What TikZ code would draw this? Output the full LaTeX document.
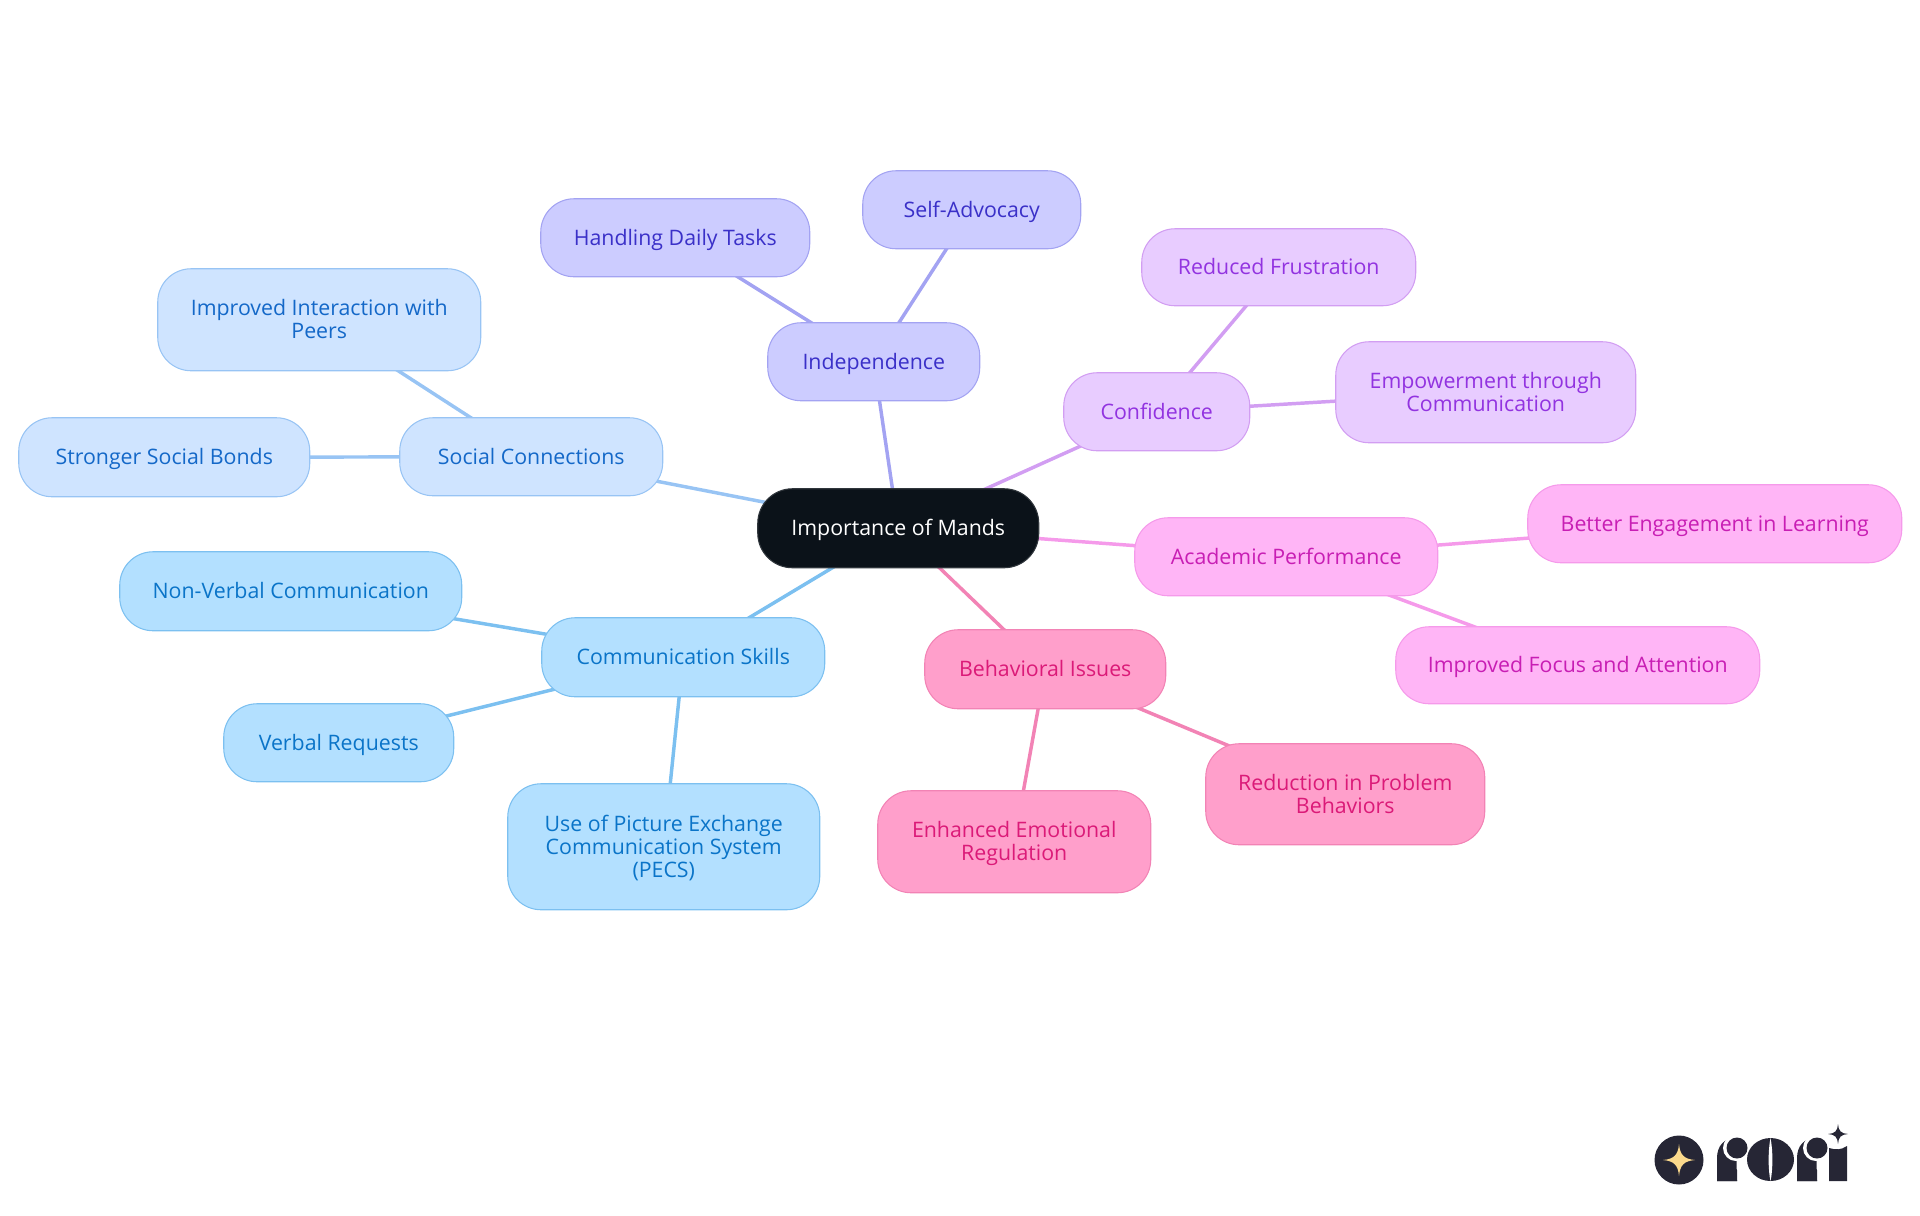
\documentclass[tikz,border=0pt]{standalone}
\usepackage{fontspec}
\setmainfont{Open Sans}
\usetikzlibrary{backgrounds}
\definecolor{cRoot}{HTML}{0B1219}
\definecolor{fInd}{HTML}{CCCCFF}\definecolor{sInd}{HTML}{A3A3F2}\definecolor{tInd}{HTML}{3A30C8}
\definecolor{fCon}{HTML}{E8CCFF}\definecolor{sCon}{HTML}{D29EF2}\definecolor{tCon}{HTML}{9233E0}
\definecolor{fAca}{HTML}{FFB5F6}\definecolor{sAca}{HTML}{F59AEA}\definecolor{tAca}{HTML}{C81EB4}
\definecolor{fBeh}{HTML}{FF9FCB}\definecolor{sBeh}{HTML}{F283B5}\definecolor{tBeh}{HTML}{DB1A78}
\definecolor{fCom}{HTML}{B3E0FF}\definecolor{sCom}{HTML}{7CC0F0}\definecolor{tCom}{HTML}{0A74C8}
\definecolor{fSoc}{HTML}{CFE4FF}\definecolor{sSoc}{HTML}{98C4F4}\definecolor{tSoc}{HTML}{1468C8}
\definecolor{cLogo}{HTML}{262635}\definecolor{cStar}{HTML}{FBD98C}
\tikzset{
  mind/.style={draw,line width=0.8pt,rounded corners=25pt,inner sep=0pt,align=center,
    font=\fontsize{16}{17.25}\selectfont},
  rootbox/.style={mind,fill=cRoot,draw=cRoot!85!white,text=white,rounded corners=26pt},
  ind/.style={mind,fill=fInd,draw=sInd,text=tInd},
  con/.style={mind,fill=fCon,draw=sCon,text=tCon},
  aca/.style={mind,fill=fAca,draw=sAca,text=tAca},
  beh/.style={mind,fill=fBeh,draw=sBeh,text=tBeh},
  com/.style={mind,fill=fCom,draw=sCom,text=tCom},
  soc/.style={mind,fill=fSoc,draw=sSoc,text=tSoc},
  link/.style={line width=2.6pt},
  logo/.style={fill=cLogo,draw=none},
}
\newcommand{\mnode}[7]{\node[#1,minimum width={(#5-#3-1)*0.75pt},minimum height={(#6-#4-1)*0.75pt}] (#2) at ({(#3+#5+0.5)/2},{(#4+#6+0.5)/2}) {\rule{0pt}{15.4pt}#7\rule[-4pt]{0pt}{4pt}};}
\begin{document}
\begin{tikzpicture}[x=0.75pt,y=-0.75pt]
\useasboundingbox (0,0) rectangle (1920,1215);
\mnode{rootbox}{root}{757}{488}{1039}{568}{Importance of Mands}
\mnode{ind}{indep}{767}{322}{980}{401}{Independence}
\mnode{ind}{selfadv}{862}{170}{1081}{249}{Self-Advocacy}
\mnode{ind}{daily}{540}{198}{810}{277}{Handling Daily Tasks}
\mnode{con}{confid}{1063}{372}{1250}{451}{Confidence}
\mnode{con}{frustr}{1141}{228}{1416}{306}{Reduced Frustration}
\mnode{con}{empow}{1335}{341}{1636}{443}{Empowerment through\\Communication}
\mnode{aca}{academ}{1134}{517}{1438}{596}{Academic Performance}
\mnode{aca}{engage}{1527}{484}{1902}{563}{Better Engagement in Learning}
\mnode{aca}{focus}{1395}{626}{1760}{704}{Improved Focus and Attention}
\mnode{beh}{behav}{924}{629}{1166}{709}{Behavioral Issues}
\mnode{beh}{reduct}{1205}{743}{1485}{845}{Reduction in Problem\\Behaviors}
\mnode{beh}{emot}{877}{790}{1151}{893}{Enhanced Emotional\\Regulation}
\mnode{com}{comm}{541}{617}{825}{697}{Communication Skills}
\mnode{com}{nonverb}{119}{551}{462}{631}{Non-Verbal Communication}
\mnode{com}{verbal}{223}{703}{454}{782}{Verbal Requests}
\mnode{com}{pecs}{507}{783}{820}{910}{Use of Picture Exchange\\Communication System\\(PECS)}
\mnode{soc}{social}{399}{417}{663}{496}{Social Connections}
\mnode{soc}{bonds}{18}{417}{310}{497}{Stronger Social Bonds}
\mnode{soc}{peers}{157}{268}{481}{371}{Improved Interaction with\\Peers}
\begin{scope}[on background layer]
\draw[link,sInd] (root.center)--(indep.center) (indep.center)--(selfadv.center) (indep.center)--(daily.center);
\draw[link,sCon] (root.center)--(confid.center) (confid.center)--(frustr.center) (confid.center)--(empow.center);
\draw[link,sAca] (root.center)--(academ.center) (academ.center)--(engage.center) (academ.center)--(focus.center);
\draw[link,sBeh] (root.center)--(behav.center) (behav.center)--(reduct.center) (behav.center)--(emot.center);
\draw[link,sCom] (root.center)--(comm.center) (comm.center)--(nonverb.center) (comm.center)--(verbal.center) (comm.center)--(pecs.center);
\draw[link,sSoc] (root.center)--(social.center) (social.center)--(bonds.center) (social.center)--(peers.center);
\end{scope}
% logo
\fill[logo] (1679,1160) circle[radius=24.5];
\fill[cStar] (1679,1144) .. controls (1680,1155) and (1684,1159) .. (1695,1160) .. controls (1684,1161) and (1680,1165) .. (1679,1176) .. controls (1678,1165) and (1674,1161) .. (1663,1160) .. controls (1674,1159) and (1678,1155) .. (1679,1144) -- cycle;
\fill[logo] (1717,1181)--(1717,1158) .. controls (1717,1146) and (1724,1138) .. (1736,1138)--(1737,1181)--cycle;
\fill[white] (1736,1148) circle[radius=13];
\fill[logo] (1737,1148) circle[radius=10.5];
\fill[logo] (1717,1181)--(1717,1160)--(1737,1170)--(1737,1181)--cycle;
\fill[logo] (1770.5,1159.5) ellipse[x radius=23.5,y radius=21.5];
\fill[white] (1770.5,1138) .. controls (1768,1150) and (1768,1170) .. (1770.5,1181) .. controls (1773,1170) and (1773,1150) .. (1770.5,1138) -- cycle;
\fill[logo] (1797,1181)--(1797,1158) .. controls (1797,1146) and (1804,1138) .. (1816,1138)--(1817,1181)--cycle;
\fill[white] (1816,1148) circle[radius=13];
\fill[logo] (1817,1148) circle[radius=10.5];
\fill[logo] (1797,1181)--(1797,1160)--(1817,1170)--(1817,1181)--cycle;
\fill[logo] (1829,1181)--(1829,1148) .. controls (1836,1150) and (1841,1150) .. (1847,1146)--(1847,1181)--cycle;
\fill[logo] (1838,1124) .. controls (1838.5,1131) and (1841,1133.5) .. (1848,1134) .. controls (1841,1134.5) and (1838.5,1137) .. (1838,1144) .. controls (1837.5,1137) and (1835,1134.5) .. (1828,1134) .. controls (1835,1133.5) and (1837.5,1131) .. (1838,1124) -- cycle;
\end{tikzpicture}
\end{document}
